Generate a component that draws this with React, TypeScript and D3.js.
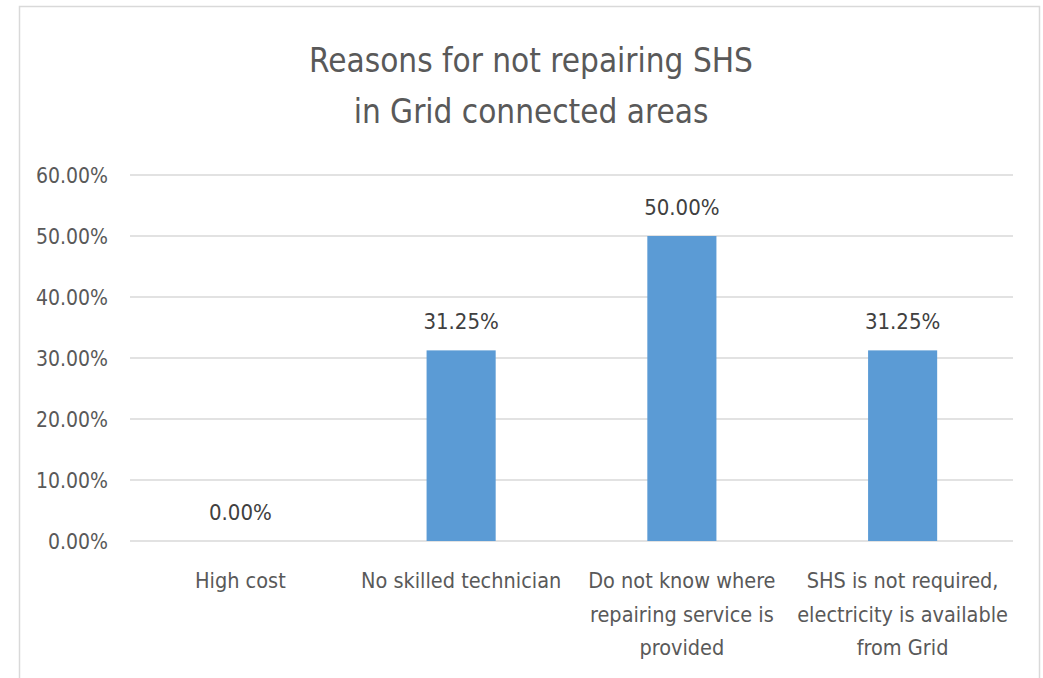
import React from "react";
import * as d3 from "d3";

const categories: string[][] = [
  ["High cost"],
  ["No skilled technician"],
  ["Do not know where", "repairing service is", "provided"],
  ["SHS is not required,", "electricity is available", "from Grid"],
];
const values: number[] = [0, 0.3125, 0.5, 0.3125];
const yTicks: number[] = [0, 0.1, 0.2, 0.3, 0.4, 0.5, 0.6];
const titleLines: string[] = ["Reasons for not repairing SHS", "in Grid connected areas"];

const W = 1043;
const H = 678;
const FONT = "'Liberation Sans Narrow', 'DejaVu Sans Condensed', 'Open Sans', sans-serif";

export default function App() {
  const left = 130;
  const right = 1013;
  const top = 175;
  const bottom = 541;
  const x = d3
    .scaleBand<number>()
    .domain(d3.range(values.length))
    .range([left, right])
    .paddingInner(0.687)
    .paddingOuter(0.3435);
  const y = d3.scaleLinear().domain([0, 0.6]).range([bottom, top]);
  const fmt = (v: number) => (v * 100).toFixed(2) + "%";
  const band = (right - left) / values.length;

  return (
    <svg
      width={W}
      height={H}
      style={{ position: "absolute", left: 0, top: 0, background: "#fff" }}
      fontFamily={FONT}
    >
      <rect x={19.5} y={6.5} width={1020} height={700} fill="#fff" stroke="#d9d9d9" strokeWidth={1.5} />
      {titleLines.map((t, i) => (
        <text
          key={i}
          x={531}
          y={72 + i * 51}
          textAnchor="middle"
          fontSize={33}
          fill="#595959"
        >
          {t}
        </text>
      ))}
      {yTicks.map((t) => (
        <g key={t}>
          <line x1={left} x2={right} y1={y(t)} y2={y(t)} stroke="#d9d9d9" strokeWidth={1.5} />
          <text x={108} y={y(t) + 7.5} textAnchor="end" fontSize={21} fill="#595959">
            {fmt(t)}
          </text>
        </g>
      ))}
      {values.map((v, i) => (
        <g key={i}>
          <rect
            x={x(i)}
            y={y(v)}
            width={x.bandwidth()}
            height={bottom - y(v)}
            fill="#5B9BD5"
          />
          <text
            x={(x(i) as number) + x.bandwidth() / 2}
            y={y(v) - 21}
            textAnchor="middle"
            fontSize={22}
            fill="#404040"
          >
            {fmt(v)}
          </text>
          {categories[i].map((line, j) => (
            <text
              key={j}
              x={left + band * (i + 0.5)}
              y={588 + j * 33.5}
              textAnchor="middle"
              fontSize={21.5}
              fill="#595959"
            >
              {line}
            </text>
          ))}
        </g>
      ))}
    </svg>
  );
}
